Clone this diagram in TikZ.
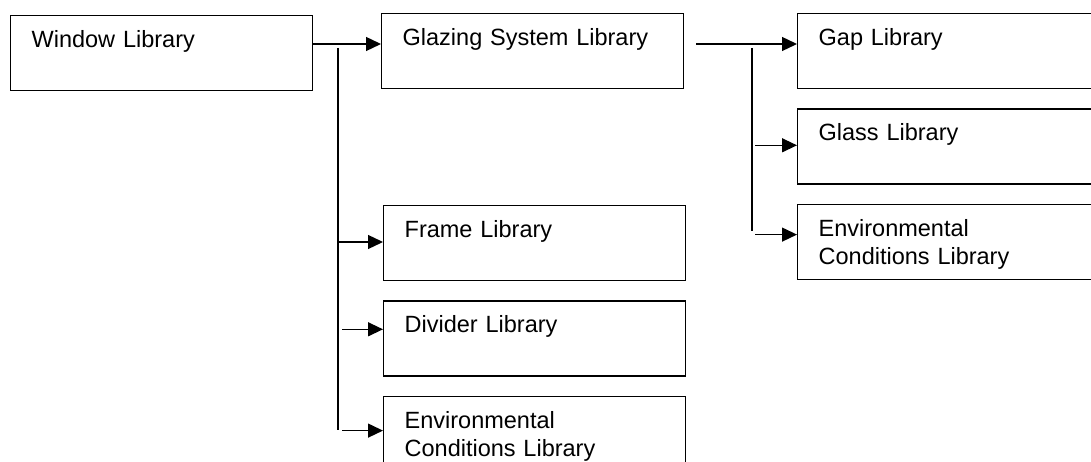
\documentclass[tikz,border=0pt]{standalone}
\usepackage{fontspec}
\setmainfont{Liberation Sans}
\usetikzlibrary{arrows.meta, positioning}

\begin{document}
\begin{tikzpicture}[x=1pt, y=-1pt, node distance=19pt,
    libbox/.style={draw, line width=1.3pt, anchor=north west, minimum width=302pt, minimum height=75pt,
        text width=260pt, align=left, inner xsep=21pt, inner ysep=15pt, text height=17pt, text depth=28pt,
        font=\fontsize{23.5}{28}\selectfont},
    trunk/.style={line width=1.3pt},
    branch/.style={line width=1.3pt, -{Triangle[length=15pt, width=14pt]}}]
    \useasboundingbox (0,0) rectangle (1091,462);
    \clip (0,0) rectangle (1091,462);

    % top row
    \node[libbox] (window) at (10,15) {Window Library};
    \node[libbox] (glazing) at (381,13) {Glazing System Library};
    \node[libbox] (gap) at (797,13) {Gap Library};

    % window sub libraries
    \node[libbox] (frame) at (383,205) {Frame Library};
    \node[libbox, below=of frame] (divider) {Divider Library};
    \node[libbox, below=of divider] (envwin) {Environmental\\Conditions Library};

    % glazing sub libraries
    \node[libbox, below=of gap] (glass) {Glass Library};
    \node[libbox, below=of glass] (envglz) {Environmental\\Conditions Library};

    % window -> glazing, frame, divider, conditions
    \coordinate (wout) at ([yshift=-29pt]window.north east);
    \draw[branch] (wout) -- (wout -| glazing.west);
    \coordinate (wtop) at (338,48);
    \coordinate (wbot) at (338,430);
    \draw[trunk] (wtop) -- (wbot);
    \coordinate (fin) at ([yshift=-37pt]frame.north west);
    \coordinate (din) at ([yshift=-29pt]divider.north west);
    \coordinate (ein) at ([yshift=-35pt]envwin.north west);
    \draw[branch] (fin -| wtop) -- (fin);
    \draw[branch] ([xshift=4pt]din -| wtop) -- (din);
    \draw[branch] ([xshift=4pt]ein -| wtop) -- (ein);

    % glazing -> gap, glass, conditions
    \coordinate (gout) at ([xshift=12pt, yshift=-31pt]glazing.north east);
    \draw[branch] (gout) -- (gout -| gap.west);
    \coordinate (gtop) at (752,48);
    \coordinate (gbot) at (752,231);
    \draw[trunk] (gtop) -- (gbot);
    \coordinate (gin) at ([yshift=-37pt]glass.north west);
    \coordinate (cin) at ([yshift=-31pt]envglz.north west);
    \draw[branch] ([xshift=3pt]gin -| gtop) -- (gin);
    \draw[branch] ([xshift=3pt]cin -| gtop) -- (cin);
\end{tikzpicture}
\end{document}
